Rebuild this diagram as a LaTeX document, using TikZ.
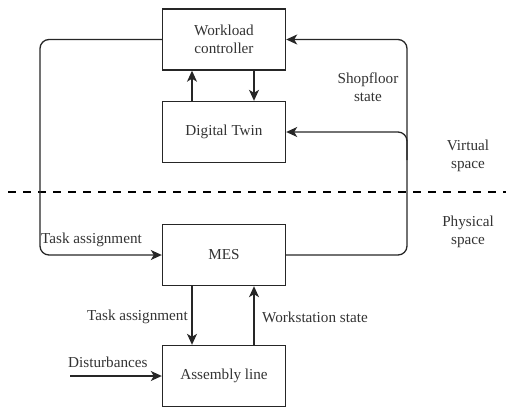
\documentclass[tikz,border=0pt]{standalone}
\usepackage{fontspec}
\setmainfont{Liberation Serif}
\newfontfamily\diagfont{Liberation Serif}
\usetikzlibrary{arrows.meta}
\begin{document}
\begin{tikzpicture}[x=1pt,y=-1pt,
  every node/.style={font=\diagfont\fontsize{15.2}{17.5}\selectfont, text=black!80},
  block/.style={draw=black!85, line width=1.4pt, minimum width=123pt, minimum height=61pt, inner sep=0pt, align=center},
  conn/.style={draw=black!85, line width=1.3pt},
  arr/.style={conn, -{Stealth[length=11pt,width=10pt,inset=3pt]}},
  lbl/.style={inner sep=0pt, align=center}]
\useasboundingbox (0,0) rectangle (506,408);
% boxes
\node[block] (wc) at (224,39.5) {Workload\\controller};
\node[block] (dt) at (224,132) {Digital Twin};
\node[block] (mes) at (224,255) {MES};
\node[block] (al) at (224,376) {Assembly line};
% divider
\coordinate (dl) at (8,192);
\coordinate (dr) at (506,192);
\draw[black, line width=2.6pt, dash pattern=on 8pt off 7pt] (dl) -- (dr);
% WC <-> DT
\draw[arr] (dt.north -| 192,0) -- (wc.south -| 192,0);
\draw[arr] (wc.south -| 254,0) -- (dt.north -| 254,0);
% MES <-> AL
\draw[arr] (mes.south -| 192,0) -- (al.north -| 192,0);
\draw[arr] (al.north -| 254,0) -- (mes.south -| 254,0);
% left loop
\coordinate (lc) at (40,0);
\draw[arr, rounded corners=9pt] (wc.west) -| (lc |- mes.west) -- (mes.west);
% right loop
\coordinate (rc) at (407,0);
\draw[arr, rounded corners=9pt] (mes.east) -| (rc |- wc.east) -- (wc.east);
\coordinate (rb) at (407,160);
\draw[arr, rounded corners=9pt] (rb) |- (dt.east);
% disturbances
\coordinate (ds) at (70,376);
\draw[arr] (ds) -- (al.west);
% labels
\node[lbl] (l1) at (368,87) {Shopfloor\\state};
\node[lbl] (l2) at (468,156) {Virtual\\space};
\node[lbl] (l3) at (468,232) {Physical\\space};
\node[lbl, anchor=west] (l4) at (41,240) {Task assignment};
\node[lbl, anchor=east] (l5) at (188,317) {Task assignment};
\node[lbl, anchor=west] (l6) at (262,317) {Workstation state};
\node[lbl, anchor=west] (l7) at (68,362) {Disturbances};
\end{tikzpicture}
\end{document}
